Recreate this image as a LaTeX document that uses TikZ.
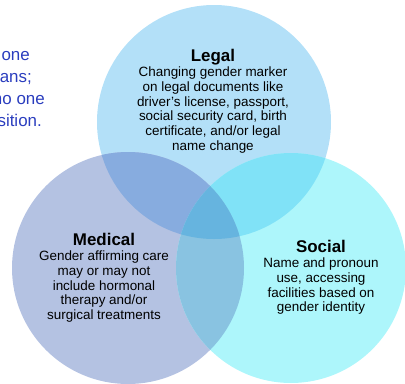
\documentclass[tikz,border=0pt]{standalone}
\usepackage{fontspec}
\setmainfont{Liberation Sans}
\usetikzlibrary{positioning}

\definecolor{legalfill}{HTML}{B3E0F8}
\definecolor{medicalfill}{HTML}{B4C2E2}
\definecolor{socialfill}{HTML}{ADF6FB}
\definecolor{legalmedical}{HTML}{87ACDF}
\definecolor{legalsocial}{HTML}{80E2F7}
\definecolor{medicalsocial}{HTML}{89C3E1}
\definecolor{allthree}{HTML}{66B4DF}
\definecolor{sideblue}{HTML}{2A3DBE}

\begin{document}
\begin{tikzpicture}[x=1bp,y=-1bp,
  title/.style={font=\fontsize{17}{19}\selectfont\bfseries,inner sep=0pt,text depth=0pt},
  body/.style={align=center,font=\fontsize{13.5}{15}\selectfont,inner sep=0pt},
  side/.style={anchor=base east,text=sideblue,font=\fontsize{17}{22}\selectfont,inner sep=0pt}]
  \useasboundingbox (0,0) rectangle (405,384);

  % the three circles
  \fill[legalfill] (214,122) circle (117);
  \fill[medicalfill] (128,268) circle (116);
  \fill[socialfill] (291,268) circle (115);

  % overlaps
  \begin{scope}
    \clip (214,122) circle (117);
    \fill[legalmedical] (128,268) circle (116);
    \fill[legalsocial] (291,268) circle (115);
  \end{scope}
  \begin{scope}
    \clip (128,268) circle (116);
    \fill[medicalsocial] (291,268) circle (115);
    \clip (214,122) circle (117);
    \fill[allthree] (291,268) circle (115);
  \end{scope}

  % cut off text on the left
  \node[side] (side1) at (30,60) {one};
  \node[side] (side2) at (32,82) {ans;};
  \node[side] (side3) at (45,104) {no one};
  \node[side] (side4) at (42,126) {sition.};

  % labels
  \node[title,anchor=base] (legal) at (213,61) {Legal};
  \node[body,below=5bp of legal] (legaltext) {Changing gender marker\\
    on legal documents like\\
    driver’s license, passport,\\
    social security card, birth\\
    certificate, and/or legal\\
    name change};

  \node[title,anchor=base] (medical) at (104,245) {Medical};
  \node[body,below=5bp of medical] (medicaltext) {Gender affirming care\\
    may or may not\\
    include hormonal\\
    therapy and/or\\
    surgical treatments};

  \node[title,anchor=base] (social) at (321,252) {Social};
  \node[body,below=5bp of social] (socialtext) {Name and pronoun\\
    use, accessing\\
    facilities based on\\
    gender identity};
\end{tikzpicture}
\end{document}
